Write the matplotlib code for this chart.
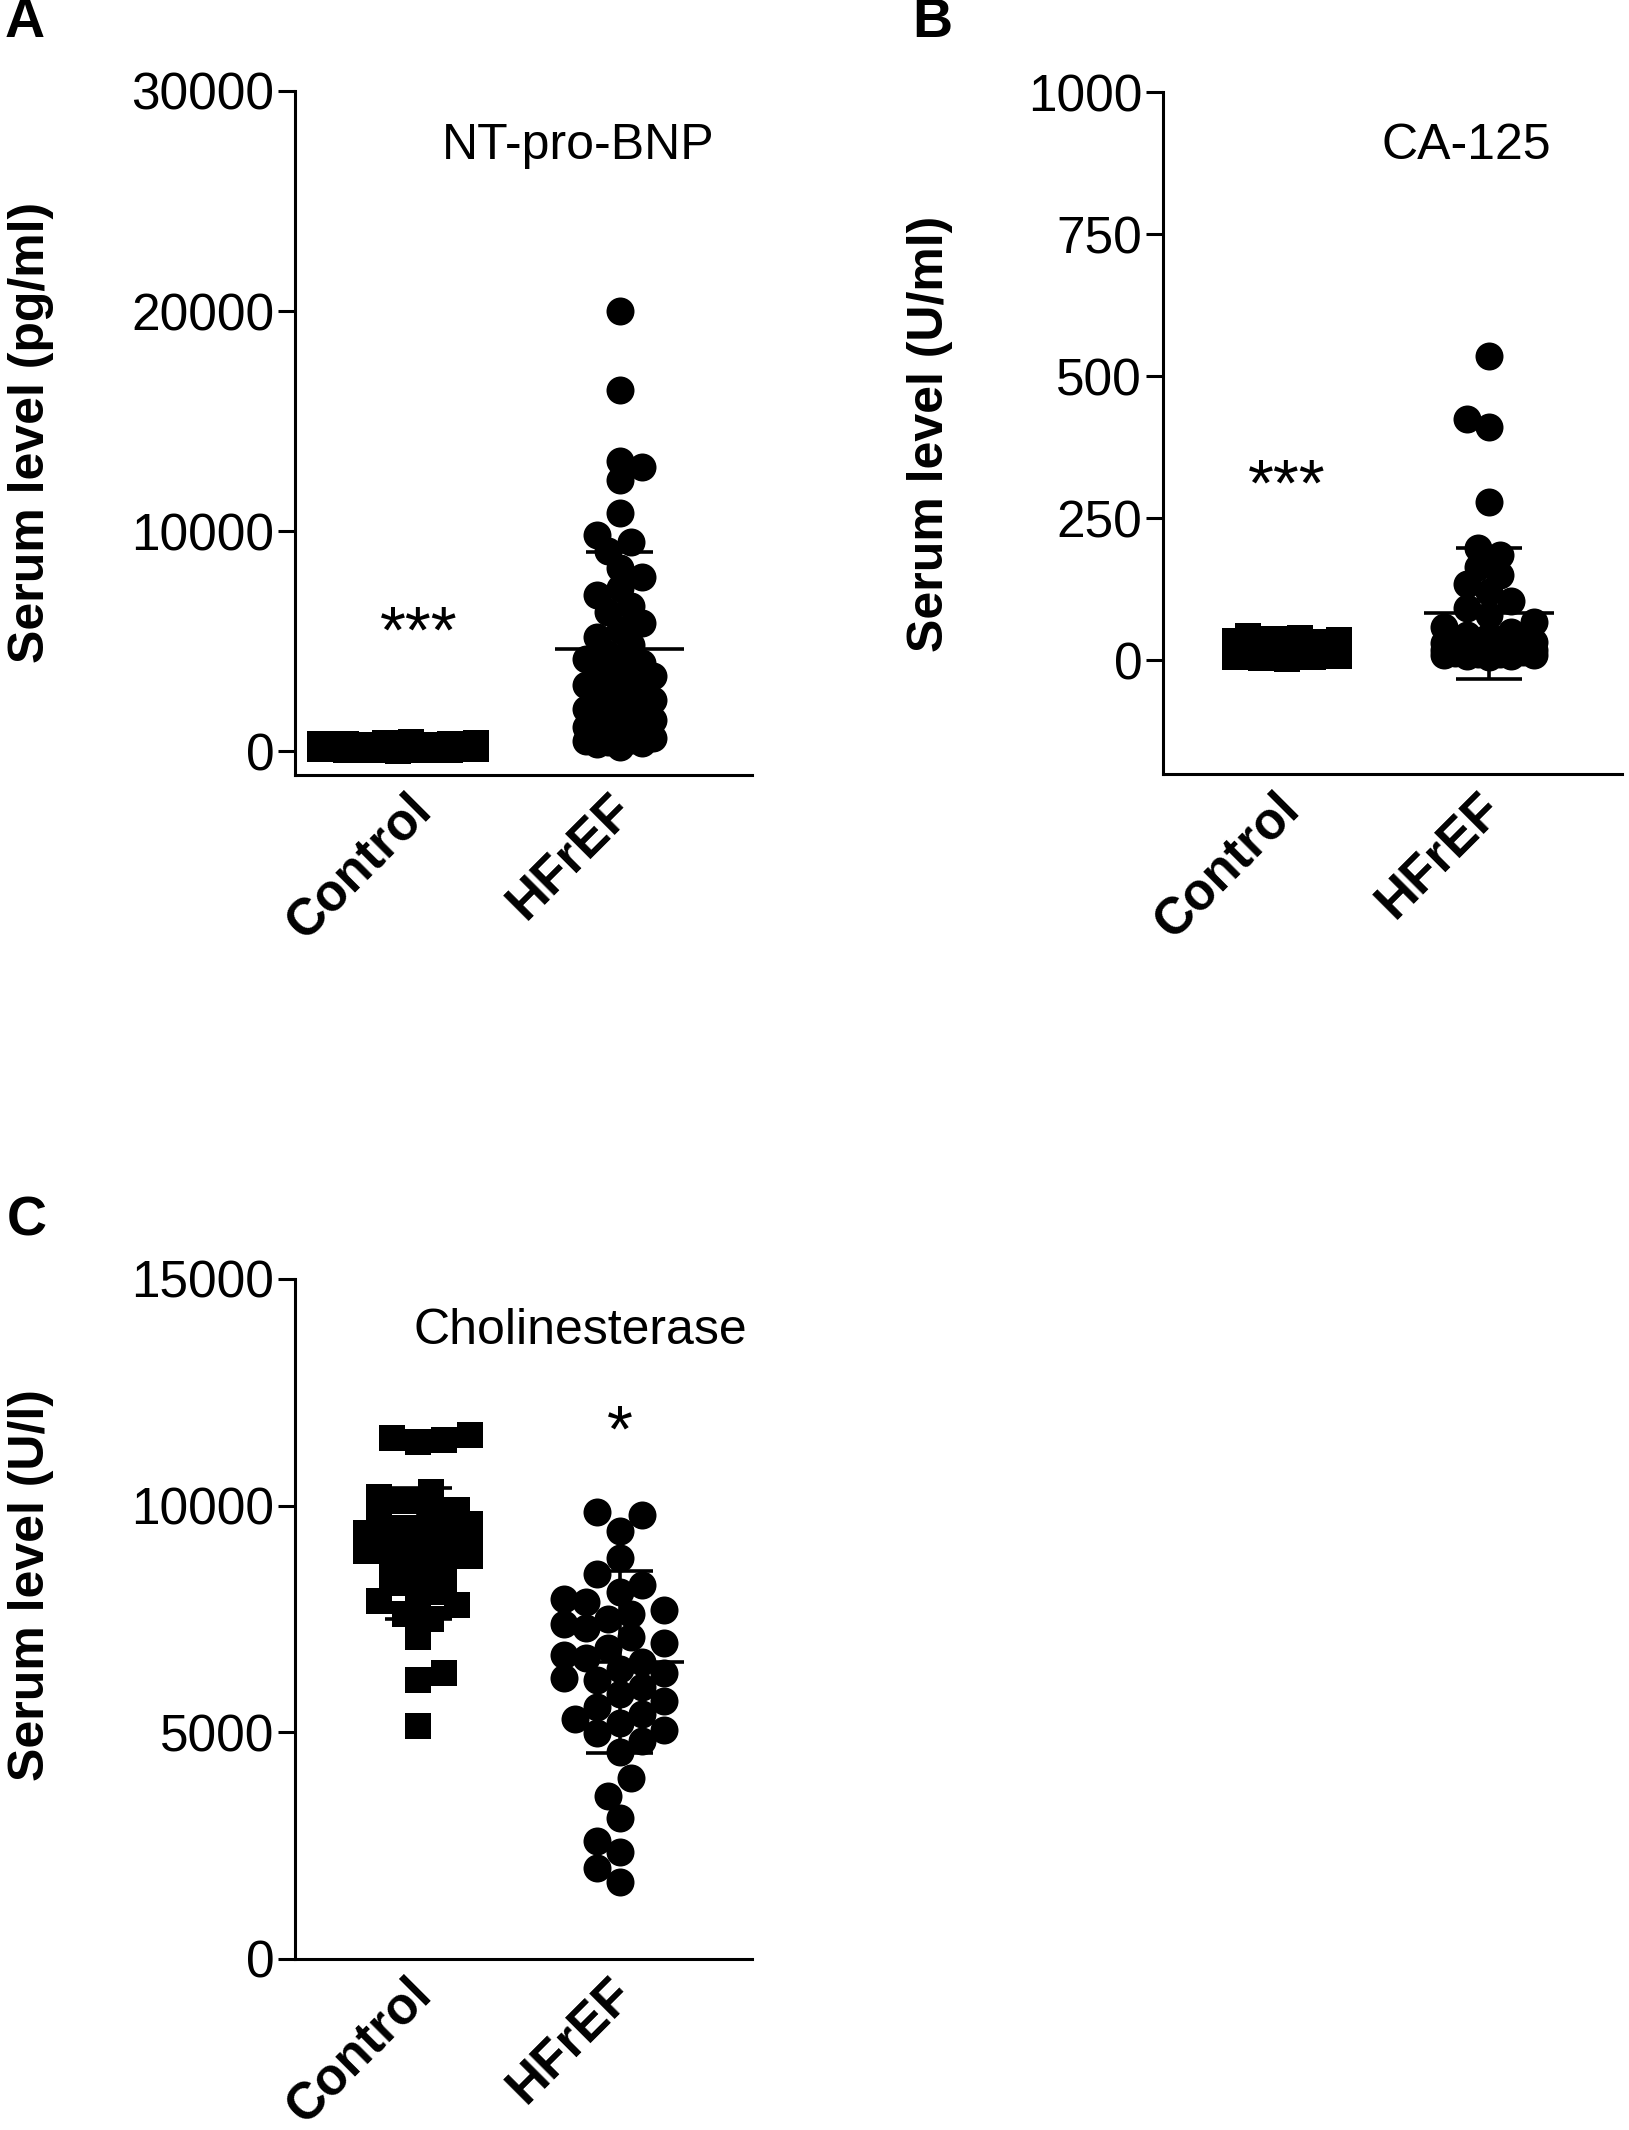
import numpy as np
import matplotlib
matplotlib.use('Agg')
import matplotlib.pyplot as plt
from matplotlib.transforms import ScaledTranslation

plt.rcParams['font.family'] = ['Liberation Sans', 'DejaVu Sans']

W, H, DPI = 1629, 2130, 100

groups = ['Control', 'HFrEF']

# ---- A: NT-pro-BNP (pg/ml) ----
bnp_control = [20, 35, 45, 55, 60, 70, 75, 80, 90, 95, 100, 110, 115, 120, 130,
               135, 140, 150, 160, 170, 180, 190, 200, 210, 220, 235, 250, 265,
               280, 300, 320, 340, 360, 380, 420]
bnp_hfref = [20000, 16400, 13200, 12900, 12300, 10800, 9800, 9500, 9100, 8300,
             7900, 7400, 7100, 6600, 6300, 5800, 5500, 5200, 4800, 4400, 4200,
             4000, 3800, 3600, 3400, 3300, 3100, 3000, 2800, 2600, 2500, 2300,
             2200, 2000, 1900, 1700, 1600, 1500, 1400, 1200, 1100, 1000, 900,
             800, 700, 600, 500, 450, 400, 350, 300, 200]
bnp_mean = [170, 4640]
bnp_sd = [100, 4400]

# ---- B: CA-125 (U/ml) ----
ca_control = [3, 4, 5, 6, 7, 8, 9, 10, 11, 12, 13, 14, 15, 16, 17, 18, 19, 20,
              21, 22, 23, 24, 25, 26, 27, 28, 29, 30, 31, 32, 34, 36, 38, 40, 42]
ca_hfref = [536, 425, 410, 279, 198, 185, 165, 150, 135, 120, 105, 92, 80, 68,
            58, 50, 45, 42, 40, 38, 36, 34, 32, 30, 28, 26, 25, 24, 22, 21, 20,
            19, 18, 17, 16, 15, 14, 13, 12, 11, 10, 9, 8, 7, 6]
ca_mean = [18, 83]
ca_sd = [9, 115]

# ---- C: Cholinesterase (U/l) ----
che_control = [11560, 11500, 11450, 11400, 10300, 10200, 10100, 9900, 9800,
               9700, 9600, 9500, 9450, 9400, 9300, 9250, 9200, 9100, 9000, 8950,
               8900, 8800, 8600, 8500, 8300, 8100, 8000, 7900, 7800, 7600, 7500,
               7100, 6300, 6150, 5150]
che_hfref = [9850, 9800, 9450, 8850, 8500, 8250, 8100, 7950, 7880, 7700, 7620,
             7500, 7400, 7300, 7100, 6980, 6860, 6700, 6650, 6550, 6400, 6300,
             6200, 6150, 6000, 5850, 5700, 5550, 5400, 5300, 5200, 5050, 4980,
             4800, 4570, 4000, 3600, 3100, 2600, 2350, 2000, 1700]
che_mean = [8950, 6550]
che_sd = [1450, 2000]


def fx(px):
    return px / W


def fy(py):
    return 1 - py / H


def swarm(ax, xc, vals, diam, maxhalf, sep=0.78, stepf=0.5, shift=0.0):
    """Beeswarm x positions, worked out in pixel space."""
    vals = np.asarray(vals, float)
    pix = ax.transData.transform(np.column_stack([np.full(len(vals), xc), vals]))
    cx = pix[0, 0] + shift
    step = diam * stepf
    ks = np.arange(0, int(maxhalf / step) + 1)
    placed = []
    offs = np.zeros(len(vals))
    for n, i in enumerate(np.argsort(pix[:, 1])):
        y = pix[i, 1]
        sgn = 1 if n % 2 == 0 else -1
        cands = [0.0]
        for k in ks[1:]:
            cands += [sgn * k * step, -sgn * k * step]
        best, best_d, best_fb = None, -1, 0.0
        for off in cands:
            if not placed:
                best = off
                break
            p = np.array(placed)
            d = np.min(np.hypot(p[:, 0] - off, p[:, 1] - y))
            if d >= sep * diam:
                best = off
                break
            if d > best_d:
                best_d, best_fb = d, off
        if best is None:
            best = best_fb
        placed.append((best, y))
        offs[i] = best
    back = ax.transData.inverted().transform(np.column_stack([cx + offs, pix[:, 1]]))
    return back[:, 0]


fig = plt.figure(figsize=(W / DPI, H / DPI), dpi=DPI)
fig.patch.set_facecolor('white')

panels = [
    dict(rect=(295, 91, 752, 775), ylim=(-1090, 30000), yticks=[0, 10000, 20000, 30000],
         data=[bnp_control, bnp_hfref], mean=bnp_mean, sd=bnp_sd,
         title='NT-pro-BNP', tpos=(578, 159), ylab='Serum level (pg/ml)', ylpos=(31, 432),
         star='***', sgrp=0, sy=4500, letter='A', lpos=(5, 37),
         cw=(88, 44), cshift=-20, hsep=0.65),
    dict(rect=(1163, 92, 1622, 774), ylim=(-200, 1000), yticks=[0, 250, 500, 750, 1000],
         data=[ca_control, ca_hfref], mean=ca_mean, sd=ca_sd,
         title='CA-125', tpos=(1466, 159), ylab='Serum level (U/ml)', ylpos=(930, 434),
         star='***', sgrp=0, sy=272, letter='B', lpos=(912, 37),
         cw=(52, 52), cshift=0, hsep=0.65),
    dict(rect=(295, 1279, 752, 1959), ylim=(0, 15000), yticks=[0, 5000, 10000, 15000],
         data=[che_control, che_hfref], mean=che_mean, sd=che_sd,
         title='Cholinesterase', tpos=(580, 1344), ylab='Serum level (U/l)', ylpos=(31, 1585),
         star='*', sgrp=1, sy=11200, letter='C', lpos=(7, 1236),
         cw=(54, 66), cshift=0, hsep=0.82),
]

for p in panels:
    l, t, r, b = p['rect']
    ax = fig.add_axes([fx(l), fy(b), (r - l) / W, (b - t) / H])
    ax.set_xlim(-0.614, 1.659)
    ax.set_ylim(*p['ylim'])
    for s in ['top', 'right']:
        ax.spines[s].set_visible(False)
    for s in ['left', 'bottom']:
        ax.spines[s].set_linewidth(2.2)
    ax.set_yticks(p['yticks'])
    ax.set_yticklabels([str(v) for v in p['yticks']])
    ax.tick_params(axis='y', length=12, width=2.2, pad=3, labelsize=37)
    ax.set_xticks([0, 1])
    ax.set_xticklabels(groups, rotation=45, ha='right', rotation_mode='anchor',
                       fontweight='bold')
    ax.tick_params(axis='x', length=0, pad=7, labelsize=37)
    shift = ScaledTranslation(-12 / DPI, 0, fig.dpi_scale_trans)
    for lab in ax.get_xticklabels():
        lab.set_transform(lab.get_transform() + shift)

    wc, wh = p['cw']
    for g, (vals, m, sd) in enumerate(zip(p['data'], p['mean'], p['sd'])):
        if g == 0:
            xs = swarm(ax, g, vals, 26, wc, shift=p['cshift'])
            ax.scatter(xs, vals, s=(26 * 72 / DPI) ** 2, marker='s', c='black',
                       linewidths=0, zorder=3)
        else:
            xs = swarm(ax, g, vals, 28, wh, sep=p['hsep'], stepf=0.4)
            ax.scatter(xs, vals, s=(28 * 72 / DPI) ** 2, marker='o', c='black',
                       linewidths=0, zorder=3)
        ax.hlines(m, g - 0.32, g + 0.32, color='black', lw=2.6, zorder=4)
        ax.hlines([m - sd, m + sd], g - 0.165, g + 0.165, color='black', lw=2.6, zorder=4)
        ax.vlines(g, m - sd, m + sd, color='black', lw=2.6, zorder=4)

    ax.text(p['sgrp'], p['sy'], p['star'], ha='center', va='baseline', fontsize=48)
    fig.text(fx(p['tpos'][0]), fy(p['tpos'][1]), p['title'], ha='center',
             va='baseline', fontsize=36)
    fig.text(fx(p['ylpos'][0]), fy(p['ylpos'][1]), p['ylab'], rotation=90,
             ha='center', va='center', fontsize=36, fontweight='bold')
    fig.text(fx(p['lpos'][0]), fy(p['lpos'][1]), p['letter'], ha='left',
             va='baseline', fontsize=40, fontweight='bold')

fig.savefig('out.png', dpi=DPI, facecolor='white')
